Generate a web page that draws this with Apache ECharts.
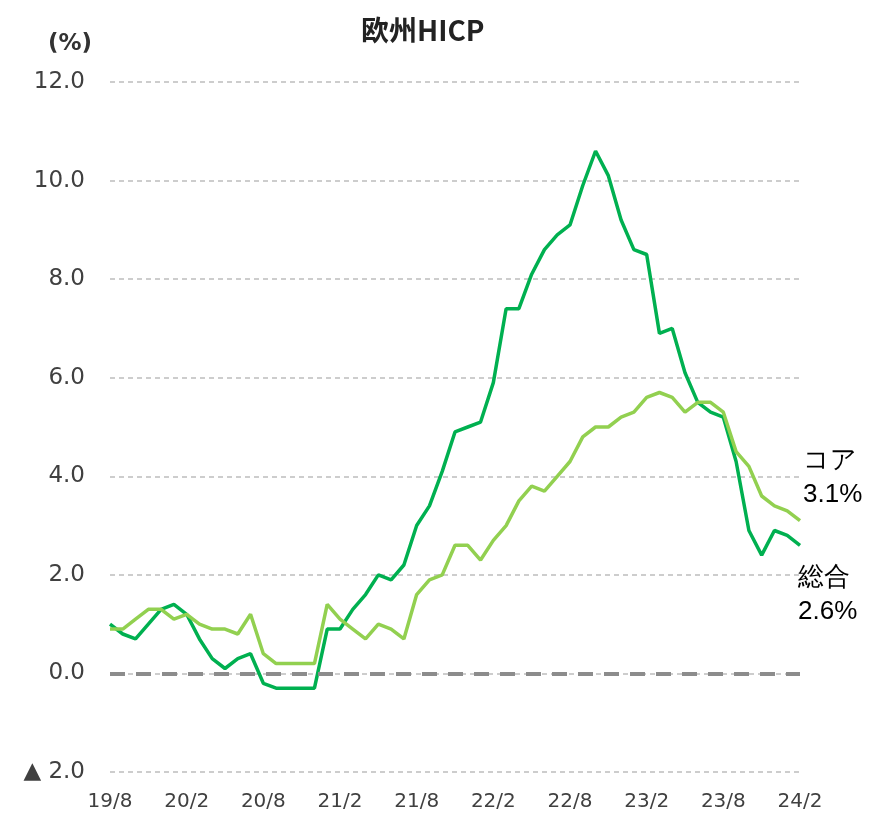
<!DOCTYPE html>
<html>
<head>
<meta charset="utf-8">
<script src="https://cdn.jsdelivr.net/npm/echarts@6/dist/echarts.min.js"></script>
<style>
  html, body { margin: 0; padding: 0; background: #fff; }
  #chart { width: 870px; height: 813px; }
</style>
</head>
<body>
<div id="chart"></div>
<script>
// 月ラベル 19/8 〜 24/2
var months = [
  '19/8','19/9','19/10','19/11','19/12',
  '20/1','20/2','20/3','20/4','20/5','20/6','20/7','20/8','20/9','20/10','20/11','20/12',
  '21/1','21/2','21/3','21/4','21/5','21/6','21/7','21/8','21/9','21/10','21/11','21/12',
  '22/1','22/2','22/3','22/4','22/5','22/6','22/7','22/8','22/9','22/10','22/11','22/12',
  '23/1','23/2','23/3','23/4','23/5','23/6','23/7','23/8','23/9','23/10','23/11','23/12',
  '24/1','24/2'
];
// 総合
var headline = [
  1.0, 0.8, 0.7, 1.0, 1.3,
  1.4, 1.2, 0.7, 0.3, 0.1, 0.3, 0.4, -0.2, -0.3, -0.3, -0.3, -0.3,
  0.9, 0.9, 1.3, 1.6, 2.0, 1.9, 2.2, 3.0, 3.4, 4.1, 4.9, 5.0,
  5.1, 5.9, 7.4, 7.4, 8.1, 8.6, 8.9, 9.1, 9.9, 10.6, 10.1, 9.2,
  8.6, 8.5, 6.9, 7.0, 6.1, 5.5, 5.3, 5.2, 4.3, 2.9, 2.4, 2.9,
  2.8, 2.6
];
// コア
var core = [
  0.9, 0.9, 1.1, 1.3, 1.3,
  1.1, 1.2, 1.0, 0.9, 0.9, 0.8, 1.2, 0.4, 0.2, 0.2, 0.2, 0.2,
  1.4, 1.1, 0.9, 0.7, 1.0, 0.9, 0.7, 1.6, 1.9, 2.0, 2.6, 2.6,
  2.3, 2.7, 3.0, 3.5, 3.8, 3.7, 4.0, 4.3, 4.8, 5.0, 5.0, 5.2,
  5.3, 5.6, 5.7, 5.6, 5.3, 5.5, 5.5, 5.3, 4.5, 4.2, 3.6, 3.4,
  3.3, 3.1
];

var myChart = echarts.init(document.getElementById('chart'));
var option = {
  animation: false,
  title: [
    {
      text: '欧州HICP',
      left: 356,
      top: 11,
      textStyle: { fontFamily: 'Noto Sans CJK JP', fontSize: 28, fontWeight: 'bold', color: '#222' }
    },
    {
      text: '(%)',
      left: 43,
      top: 28,
      textStyle: { fontFamily: 'DejaVu Sans', fontSize: 23, fontWeight: 'bold', color: '#333' }
    }
  ],
  grid: { left: 110, right: 70, top: 82, bottom: 41, containLabel: false },
  xAxis: {
    type: 'category',
    boundaryGap: false,
    data: months,
    axisLine: { show: false },
    axisTick: { show: false },
    axisLabel: {
      interval: 5,
      margin: 20,
      fontFamily: 'DejaVu Sans',
      fontSize: 20,
      color: '#404040'
    }
  },
  yAxis: {
    type: 'value',
    min: -2,
    max: 12,
    interval: 2,
    axisLine: { show: false },
    axisTick: { show: false },
    axisLabel: {
      margin: 25,
      fontFamily: 'DejaVu Sans',
      fontSize: 23,
      color: '#404040',
      formatter: function (v) {
        return v < 0 ? '▲ ' + Math.abs(v).toFixed(1) : v.toFixed(1);
      }
    },
    splitLine: {
      lineStyle: { type: [5, 4], color: '#bdbdbd', width: 1.5 }
    }
  },
  series: [
    {
      name: '総合',
      type: 'line',
      data: headline,
      symbol: 'none',
      lineStyle: { color: '#00b050', width: 3.5 },
      itemStyle: { color: '#00b050' },
      markLine: {
        silent: true,
        symbol: 'none',
        label: { show: false },
        lineStyle: { type: [15, 11], color: '#8c8c8c', width: 4 },
        data: [{ yAxis: 0 }]
      },
      endLabel: {
        show: true,
        distance: 0,
        offset: [-2, 50],
        align: 'left',
        fontFamily: 'Liberation Sans',
        fontSize: 26,
        lineHeight: 34,
        color: '#000',
        formatter: function (p) { return p.seriesName + '\n' + p.value.toFixed(1) + '%'; }
      }
    },
    {
      name: 'コア',
      type: 'line',
      data: core,
      symbol: 'none',
      lineStyle: { color: '#92d050', width: 3.5 },
      itemStyle: { color: '#92d050' },
      endLabel: {
        show: true,
        distance: 0,
        offset: [3, -43],
        align: 'left',
        fontFamily: 'Liberation Sans',
        fontSize: 26,
        lineHeight: 34,
        color: '#000',
        formatter: function (p) { return p.seriesName + '\n' + p.value.toFixed(1) + '%'; }
      }
    }
  ]
};
myChart.setOption(option);
</script>
</body>
</html>
